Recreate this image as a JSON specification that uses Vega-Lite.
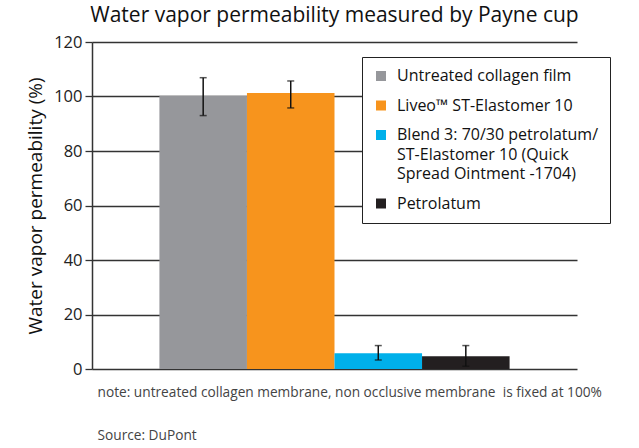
{
  "$schema": "https://vega.github.io/schema/vega-lite/v6.json",
  "autosize": {"type": "none"},
  "width": 485,
  "height": 327,
  "padding": {"left": 92, "top": 42, "right": 62, "bottom": 79},
  "background": "white",
  "title": {
    "text": "Water vapor permeability measured by Payne cup",
    "fontSize": 21,
    "font": "Open Sans",
    "fontWeight": "normal",
    "color": "#111111",
    "anchor": "middle",
    "offset": 8
  },
  "data": {
    "values": [
      {"series": "Untreated collagen film", "value": 100.3, "lo": 93.0, "hi": 106.9},
      {"series": "Liveo™ ST-Elastomer 10", "value": 101.3, "lo": 95.8, "hi": 105.7},
      {"series": "Blend 3: 70/30 petrolatum/ ST-Elastomer 10 (Quick Spread Ointment -1704)", "value": 5.8, "lo": 3.3, "hi": 8.6},
      {"series": "Petrolatum", "value": 4.7, "lo": 1.0, "hi": 8.6}
    ]
  },
  "encoding": {
    "x": {
      "field": "series",
      "type": "nominal",
      "sort": null,
      "scale": {"paddingInner": 0, "paddingOuter": 0.77},
      "axis": {
        "labels": false,
        "ticks": false,
        "domain": false,
        "title": ["note: untreated collagen membrane, non occlusive membrane\u00a0 is fixed at 100%", "Source: DuPont"],
        "titleFont": "Open Sans",
        "titleFontSize": 13.7,
        "titleFontWeight": "normal",
        "titleColor": "#444444",
        "titleAnchor": "start",
        "titleAlign": "left",
        "titleBaseline": "top",
        "titleLineHeight": 43,
        "titleX": 5,
        "titleY": 16
      }
    }
  },
  "layer": [
    {
      "mark": {"type": "bar"},
      "encoding": {
        "y": {
          "field": "value",
          "type": "quantitative",
          "scale": {"domain": [0, 120], "nice": false},
          "axis": {
            "values": [0, 20, 40, 60, 80, 100, 120],
            "title": "Water vapor permeability (%)",
            "titleFont": "Open Sans",
            "titleFontSize": 19,
            "titleFontWeight": "normal",
            "titleColor": "#111111",
            "titlePadding": 8,
            "labelFont": "Open Sans",
            "labelFontSize": 16.5,
            "labelColor": "#222222",
            "labelPadding": 3,
            "tickSize": 7,
            "tickColor": "#333333",
            "tickWidth": 1.3,
            "domainColor": "#333333",
            "domainWidth": 1.5,
            "grid": true,
            "gridColor": "#333333",
            "gridWidth": 1.3
          }
        },
        "color": {
          "field": "series",
          "type": "nominal",
          "sort": null,
          "scale": {
            "domain": ["Untreated collagen film", "Liveo™ ST-Elastomer 10", "Blend 3: 70/30 petrolatum/ ST-Elastomer 10 (Quick Spread Ointment -1704)", "Petrolatum"],
            "range": ["#96979b", "#f7941d", "#00b0ea", "#231f20"]
          },
          "legend": {
            "title": null,
            "orient": "none",
            "legendX": 270,
            "legendY": 15,
            "symbolType": "square",
            "symbolSize": 100,
            "symbolStrokeWidth": 0,
            "labelFont": "Open Sans",
            "labelFontSize": 16,
            "labelColor": "#111111",
            "labelOffset": 8,
            "labelLimit": 400,
            "rowPadding": 13.5,
            "padding": 11,
            "strokeColor": "#222222",
            "fillColor": "white",
            "labelExpr": "indexof(datum.label, 'Blend') == 0 ? ['Blend 3: 70/30 petrolatum/', 'ST-Elastomer 10 (Quick', 'Spread Ointment -1704)'] : datum.label",
            "encode": {
              "labels": {"update": {"lineHeight": {"value": 19.5}}},
              "legend": {"update": {"width": {"value": 273}}}
            }
          }
        }
      }
    },
    {
      "mark": {"type": "rule", "color": "#111111", "strokeWidth": 1.5},
      "encoding": {
        "y": {"field": "lo", "type": "quantitative"},
        "y2": {"field": "hi"}
      }
    },
    {
      "mark": {"type": "tick", "color": "#111111", "size": 7, "thickness": 1.5},
      "encoding": {
        "y": {"field": "lo", "type": "quantitative"}
      }
    },
    {
      "mark": {"type": "tick", "color": "#111111", "size": 7, "thickness": 1.5},
      "encoding": {
        "y": {"field": "hi", "type": "quantitative"}
      }
    }
  ],
  "config": {
    "view": {"stroke": null}
  }
}
